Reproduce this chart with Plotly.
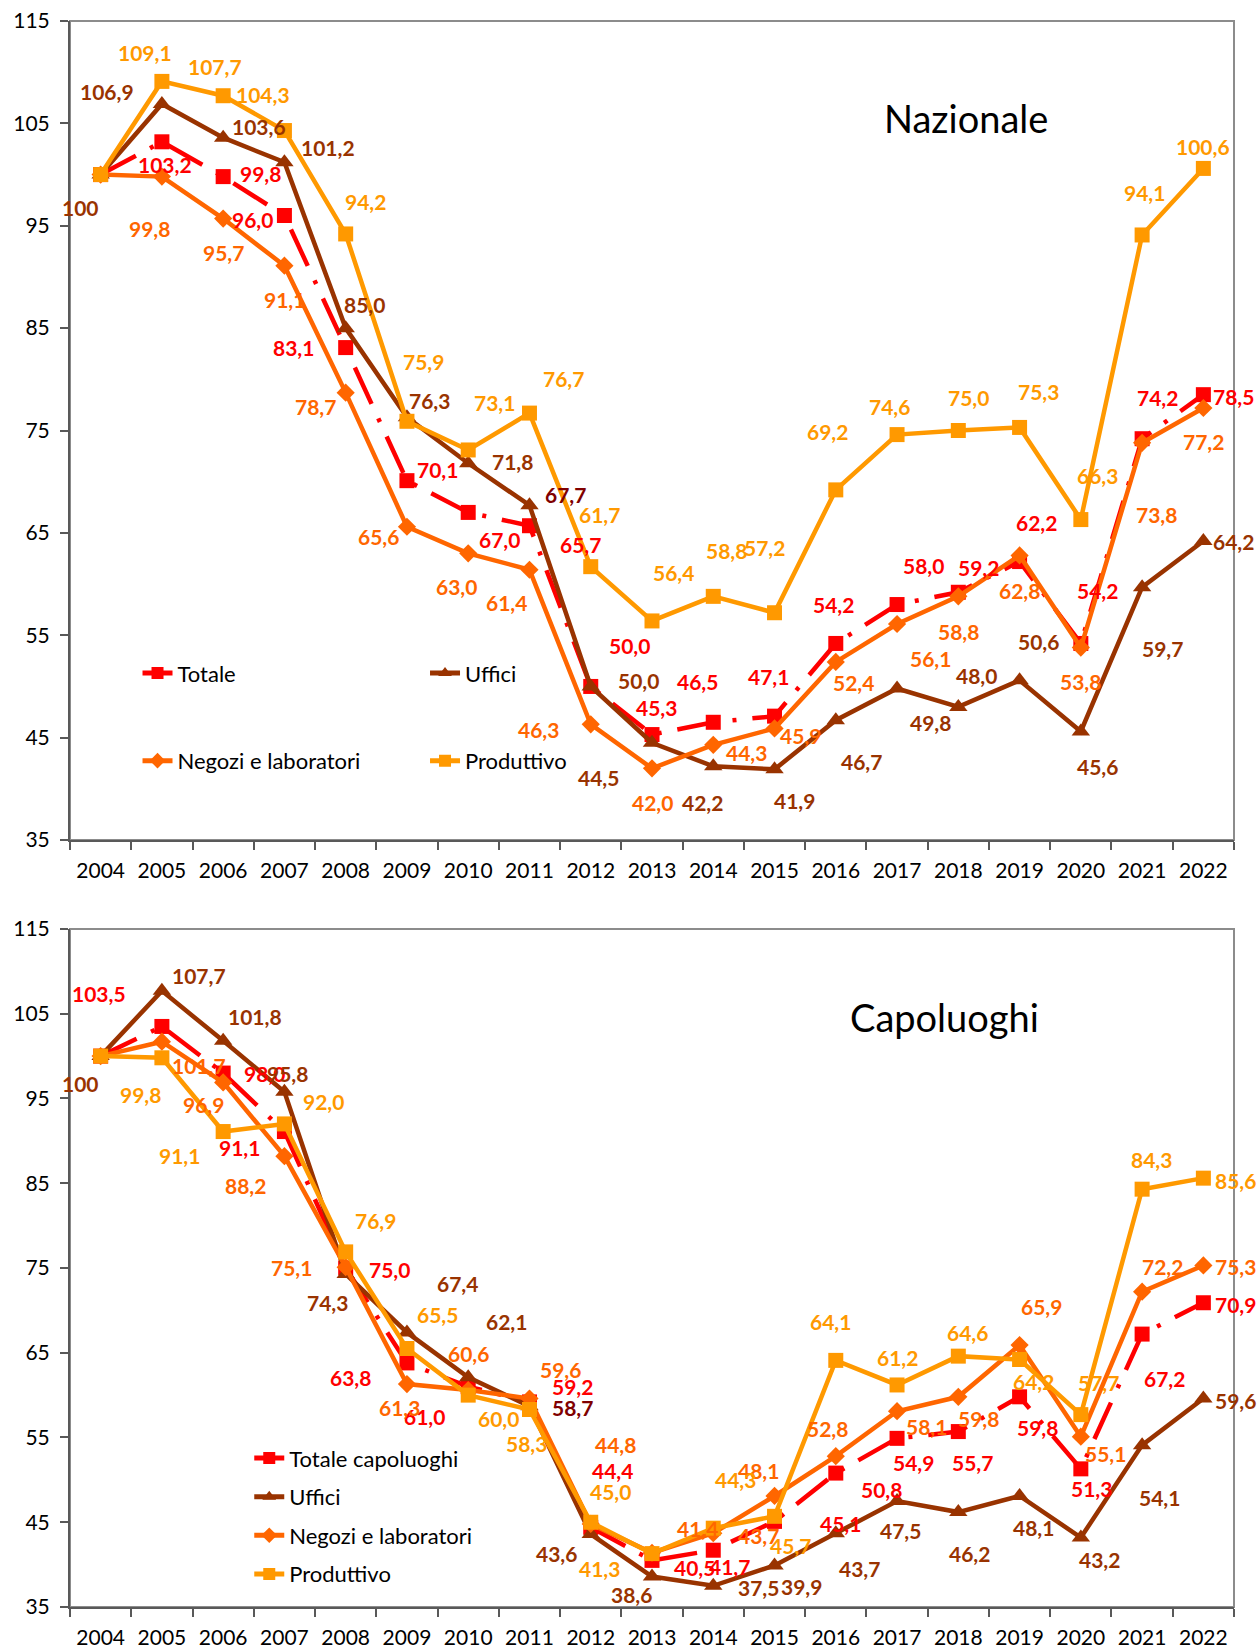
import plotly.graph_objects as go

years = [str(y) for y in range(2004, 2023)]

# ---- Nazionale ----
naz_totale = [100, 103.2, 99.8, 96.0, 83.1, 70.1, 67.0, 65.7, 50.0, 45.3, 46.5, 47.1, 54.2, 58.0, 59.2, 62.2, 54.2, 74.2, 78.5]
naz_uffici = [100, 106.9, 103.6, 101.2, 85.0, 76.3, 71.8, 67.7, 50.0, 44.5, 42.2, 41.9, 46.7, 49.8, 48.0, 50.6, 45.6, 59.7, 64.2]
naz_negozi = [100, 99.8, 95.7, 91.1, 78.7, 65.6, 63.0, 61.4, 46.3, 42.0, 44.3, 45.9, 52.4, 56.1, 58.8, 62.8, 53.8, 73.8, 77.2]
naz_produttivo = [100, 109.1, 107.7, 104.3, 94.2, 75.9, 73.1, 76.7, 61.7, 56.4, 58.8, 57.2, 69.2, 74.6, 75.0, 75.3, 66.3, 94.1, 100.6]

# ---- Capoluoghi ----
cap_totale = [100, 103.5, 98.0, 91.1, 75.0, 63.8, 61.0, 59.2, 44.4, 40.5, 41.7, 45.1, 50.8, 54.9, 55.7, 59.8, 51.3, 67.2, 70.9]
cap_uffici = [100, 107.7, 101.8, 95.8, 74.3, 67.4, 62.1, 58.7, 43.6, 38.6, 37.5, 39.9, 43.7, 47.5, 46.2, 48.1, 43.2, 54.1, 59.6]
cap_negozi = [100, 101.7, 96.9, 88.2, 75.1, 61.3, 60.6, 59.6, 44.8, 41.4, 43.7, 48.1, 52.8, 58.1, 59.8, 65.9, 55.1, 72.2, 75.3]
cap_produttivo = [100, 99.8, 91.1, 92.0, 76.9, 65.5, 60.0, 58.3, 45.0, 41.3, 44.3, 45.7, 64.1, 61.2, 64.6, 64.2, 57.7, 84.3, 85.6]

# ---- label offsets in pixels (dx, dy; dy positive = downwards); None = label hidden ----
off_naz_totale = [None, (3, 23), (37, -3), (-32, 4), (-52, 0), (31, -11), (31, 27), (51, 19), (39, -41), (4, -27),
                  (-16, -41), (-6, -40), (-2, -39), (26, -39), (20, -25), (17, -39), (17, -53), (15, -41), (30, 2)]
off_naz_uffici = [(-20, 33), (-55, -12), (36, -11), (44, -15), (19, -24), (23, -17), (44, -2), (36, -11), (48, -6), (-54, 35),
                  (-11, 36), (20, 31), (26, 41), (33, 34), (18, -31), (19, -39), (17, 35), (20, 61), (30, 0)]
off_naz_negozi = [None, (-12, 52), (0, 34), (0, 34), (-30, 14), (-28, 10), (-12, 33), (-23, 33), (-52, 5), (0, 34),
                  (33, 8), (26, 7), (18, 21), (33, 34), (0, 35), (0, 35), (0, 34), (14, 72), (0, 34)]
off_naz_produttivo = [None, (-17, -29), (-8, -29), (-21, -36), (20, -32), (17, -60), (26, -47), (34, -35), (9, -52), (21, -48),
                      (13, -46), (-10, -65), (-8, -58), (-8, -28), (10, -33), (19, -36), (17, -44), (2, -42), (0, -22)]

off_cap_totale = [None, (-63, -33), (41, 0), (-45, 16), (44, 2), (-56, 15), (-44, 30), (43, -15), (22, -57), (42, 7),
                  (16, 16), (66, 2), (46, 16), (16, 24), (14, 31), (18, 31), (11, 20), (22, 44), (32, 2)]
off_cap_uffici = [(-20, 27), (37, -15), (32, -24), (3, -18), (-18, 29), (51, -49), (38, -56), (43, 1), (-34, 19), (-21, 18),
                  (45, 2), (27, 21), (24, 35), (3, 29), (11, 41), (14, 32), (19, 22), (17, 52), (32, 2)]
off_cap_negozi = [None, (37, 24), (-20, 22), (-39, 29), (-54, 0), (-7, 23), (0, -37), (31, -29), (25, -79), (45, -24),
                  (45, 2), (-16, -25), (-8, -28), (29, 15), (20, 22), (22, -39), (25, 17), (20, -25), (32, 1)]
off_cap_produttivo = [None, (-21, 37), (-44, 24), (39, -22), (30, -31), (31, -34), (30, 23), (-3, 34), (20, -31), (-53, 15),
                      (22, -49), (16, 29), (-5, -39), (0, -27), (9, -24), (14, 22), (18, -32), (9, -30), (32, 2)]

RED = "#FF0000"
BROWN = "#993300"
ORANGE = "#FF6600"
GOLD = "#FF9900"
DARK = "#800000"
FONT = "Lato"


def fmt(v, i):
    if i == 0:
        return "100"
    return f"{v:.1f}".replace(".", ",")


fig = go.Figure()

series_top = [
    ("Totale", naz_totale, RED, "square", 15, off_naz_totale, "legend", True),
    ("Uffici", naz_uffici, BROWN, "triangle-up", 16, off_naz_uffici, "legend2", False),
    ("Negozi e laboratori", naz_negozi, ORANGE, "diamond", 14, off_naz_negozi, "legend", False),
    ("Produttivo", naz_produttivo, GOLD, "square", 15, off_naz_produttivo, "legend2", False),
]
series_bot = [
    ("Totale capoluoghi", cap_totale, RED, "square", 15, off_cap_totale, "legend3", True),
    ("Uffici", cap_uffici, BROWN, "triangle-up", 16, off_cap_uffici, "legend3", False),
    ("Negozi e laboratori", cap_negozi, ORANGE, "diamond", 14, off_cap_negozi, "legend3", False),
    ("Produttivo", cap_produttivo, GOLD, "square", 15, off_cap_produttivo, "legend3", False),
]

annotations = []
for panel, (series, xa, ya) in enumerate([(series_top, "x", "y"), (series_bot, "x2", "y2")]):
    for k, (name, vals, col, sym, msize, offs, leg, dashed) in enumerate(series):
        fig.add_trace(go.Scatter(
            x=years, y=vals, name=name, xaxis=xa, yaxis=ya,
            mode="lines+markers",
            line=dict(color=col, width=4.5, dash="40px,16px,4px,16px" if dashed else "solid"),
            marker=dict(symbol=sym, size=msize, color=col, line=dict(width=0)),
            legend=leg, legendgroup=f"{panel}-{k}",
            cliponaxis=False, hoverinfo="skip",
        ))
        for i, v in enumerate(vals):
            o = offs[i]
            if o is None:
                continue
            tcol = col
            if name == "Uffici" and i == 7:
                tcol = DARK
            annotations.append(dict(
                x=i, y=v, xref=xa, yref=ya, text=fmt(v, i), showarrow=False,
                xanchor="center", yanchor="middle",
                xshift=o[0], yshift=-o[1],
                font=dict(family=FONT, size=21, color=tcol, weight="bold"),
            ))

annotations.append(dict(x=0.770, y=0.939, xref="paper", yref="paper", text="Nazionale",
                        xanchor="center", yanchor="middle",
                        showarrow=False, font=dict(family=FONT, size=38, color="black")))
annotations.append(dict(x=0.751, y=0.372, xref="paper", yref="paper", text="Capoluoghi",
                        xanchor="center", yanchor="middle",
                        showarrow=False, font=dict(family=FONT, size=38, color="black")))

axis_line = "#595959"
xcommon = dict(type="category", range=[-0.5, 18.5], autorange=False, automargin=False, showline=True,
               linecolor=axis_line, linewidth=2, ticks="outside", tickson="boundaries", ticklen=8, tickwidth=2,
               tickcolor=axis_line, showgrid=False, tickangle=0, ticklabelstandoff=11,
               tickfont=dict(family=FONT, size=21, color="black"), zeroline=False)
ycommon = dict(range=[35, 115], autorange=False, automargin=False, dtick=10, tick0=35, showline=True,
               linecolor=axis_line, linewidth=2, ticks="outside", ticklen=8, tickwidth=2, tickcolor=axis_line,
               showgrid=False, zeroline=False, ticklabelstandoff=6,
               tickfont=dict(family=FONT, size=21, color="black"))

shapes = []
for xa, ya in [("x", "y"), ("x2", "y2")]:
    shapes.append(dict(type="rect", xref=f"{xa} domain", yref=f"{ya} domain", x0=0, x1=1, y0=0, y1=1,
                       line=dict(color="#8C8C8C", width=2), layer="below"))

legend_common = dict(bgcolor="rgba(0,0,0,0)", borderwidth=0, font=dict(family=FONT, size=22, color="black"),
                     xanchor="left", yanchor="top", traceorder="grouped", itemsizing="constant")

fig.update_layout(
    width=1257, height=1648,
    margin=dict(l=70, r=23, t=21, b=41, autoexpand=False),
    paper_bgcolor="white", plot_bgcolor="white",
    xaxis=dict(domain=[0, 1], anchor="y", **xcommon),
    yaxis=dict(domain=[0.4836, 1], anchor="x", **ycommon),
    xaxis2=dict(domain=[0, 1], anchor="y2", **xcommon),
    yaxis2=dict(domain=[0, 0.4275], anchor="x2", **ycommon),
    annotations=annotations,
    shapes=shapes,
    legend=dict(x=0.058, y=0.602, tracegroupgap=56, **legend_common),
    legend2=dict(x=0.305, y=0.602, tracegroupgap=56, **legend_common),
    legend3=dict(x=0.154, y=0.107, tracegroupgap=7, **legend_common),
    showlegend=True,
)

# remove the browser's default 8px body margin so the figure fills the page exactly
fig.write_html("out.html", config={"displayModeBar": False},
               post_script="document.body.style.margin='0';document.body.style.overflow='hidden';")
